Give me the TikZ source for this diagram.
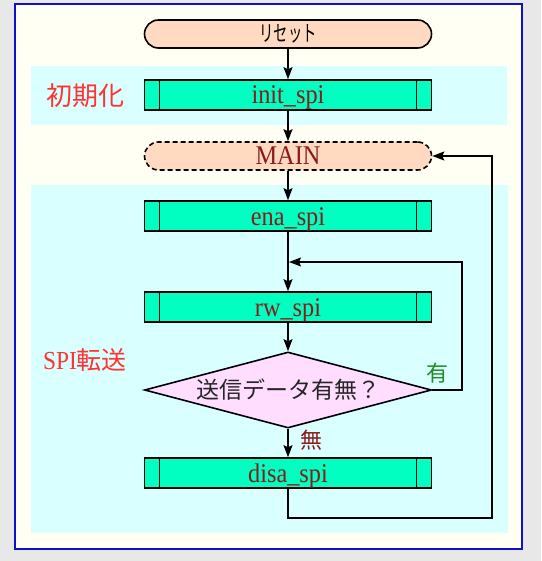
\documentclass[tikz,border=0pt]{standalone}
\usepackage{fontspec}
\setmainfont{Liberation Serif}[FakeStretch=0.9]
\newfontfamily\jp{Noto Sans CJK JP}
\newfontfamily\jpn{Noto Sans CJK JP}[FakeStretch=0.65]
\usetikzlibrary{shapes.geometric,arrows.meta}
\definecolor{bggray}{HTML}{E8E8E8}
\definecolor{frameblue}{HTML}{1010CC}
\definecolor{ivory}{HTML}{FFFFF4}
\definecolor{cyanband}{HTML}{D9FFFF}
\definecolor{peach}{HTML}{FFD9C0}
\definecolor{procgreen}{HTML}{00FFC0}
\definecolor{pinkdia}{HTML}{FFDDFF}
\definecolor{darkred}{HTML}{8B1A1A}
\definecolor{labred}{HTML}{FF3333}
\definecolor{labgreen}{HTML}{228B22}
\tikzset{
  proc/.style={draw=black, line width=1.6pt, fill=procgreen, minimum width=287pt,
    minimum height=30pt, inner sep=0pt, text=darkred, font=\fontsize{27}{29}\selectfont,
    text height=18pt, text depth=0pt,
    path picture={
      \draw[line width=1.2pt] ([xshift=15pt]path picture bounding box.north west) -- ([xshift=15pt]path picture bounding box.south west);
      \draw[line width=1.2pt] ([xshift=-15pt]path picture bounding box.north east) -- ([xshift=-15pt]path picture bounding box.south east);}},
  term/.style={draw=black, line width=1.6pt, fill=peach, rounded corners=14pt,
    minimum width=287pt, minimum height=28pt, inner sep=0pt},
  decis/.style={diamond, draw=black, line width=1.6pt, fill=pinkdia, aspect=3.78,
    minimum width=287pt, minimum height=76pt, inner sep=0pt},
  arr/.style={line width=1.2pt, -{Stealth[length=12pt,width=9pt,inset=2pt]}},
  sect/.style={text=labred, inner sep=0pt}
}
\begin{document}
\begin{tikzpicture}[x=1pt,y=-1pt]
\fill[bggray] (0,0) rectangle (541,561);
\useasboundingbox (0,0) rectangle (541,561);
\draw[frameblue, line width=1.8pt, fill=ivory] (15,4) rectangle (522,549);
\fill[cyanband] (31,66) rectangle (507,125);
\fill[cyanband] (31,185) rectangle (508,533);

\node[sect, font=\jp\fontsize{26}{28}\selectfont] (lab1) at (85,96) {初期化};
\node[sect, font=\fontsize{26}{28}\selectfont] (lab2) at (85,360) {SPI{\jp\fontsize{25}{28}\selectfont 転送}};

\node[term, font=\jpn\fontsize{22}{24}\selectfont] (reset) at (288,34) {リセット};
\node[proc] (init) at (288,95) {init\_spi};
\node[term, dashed, dash pattern=on 5pt off 3pt, text=darkred, font=\fontsize{27}{29}\selectfont,
  text height=18pt, text depth=0pt] (main) at (288,156) {MAIN};
\node[proc] (ena) at (288,216) {ena\_spi};
\node[proc] (rw) at (288,307) {rw\_spi};
\node[decis, font=\jp\fontsize{23}{25}\selectfont, text=black!85] (dec) at (288,390) {送信データ有無？};
\node[proc] (disa) at (288,473) {disa\_spi};

\node[text=labgreen, font=\jp\fontsize{22}{24}\selectfont, inner sep=0pt] (yes) at (437,373) {有};
\node[text=darkred, font=\jp\fontsize{22}{24}\selectfont, inner sep=0pt] (no) at (311,440) {無};

\coordinate (j1) at (289,262);
\coordinate (r1) at (462,390);
\coordinate (b1) at (288,518);
\coordinate (b2) at (492,518);
\coordinate (b3) at (492,156);

\draw[arr] (reset) -- (init);
\draw[arr] (init) -- (main);
\draw[arr] (main) -- (ena);
\draw[arr] (ena) -- (rw);
\draw[arr] (rw) -- (dec);
\draw[arr] (dec) -- (disa);
\draw[arr] (dec.east) -- (r1) |- (j1);
\draw[arr] (disa.south) -- (b1) -- (b2) -- (b3) -- (main.east);
\end{tikzpicture}
\end{document}
